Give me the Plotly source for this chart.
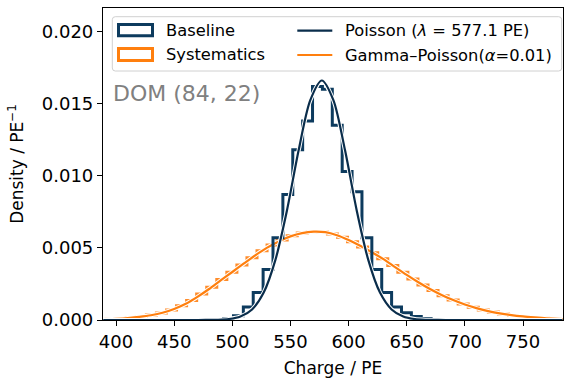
import plotly.graph_objects as go

# ---------------- data ----------------
baseline_edges = [492.5, 501, 509.5, 518, 526.5, 535, 543.5, 552, 560.5, 569, 577.5,
                  586, 594.5, 603, 611.5, 620, 628.5, 637, 645.5, 654, 662.5, 671]
baseline_density = [0.0001, 0.0003, 0.0009, 0.0019, 0.0035, 0.0057, 0.0087, 0.0118, 0.0138,
                    0.0162, 0.0160, 0.0135, 0.0103, 0.0089, 0.0057, 0.0035, 0.0019, 0.0009,
                    0.0005, 0.00025, 0.0001]

syst_edges = [391.5, 400.15, 408.8, 417.45, 426.1, 434.75, 443.4, 452.05, 460.7, 469.35,
              478.0, 486.65, 495.3, 503.95, 512.6, 521.25, 529.9, 538.55, 547.2, 555.85,
              564.5, 573.15, 581.8, 590.45, 599.1, 607.75, 616.4, 625.05, 633.7, 642.35,
              651.0, 659.65, 668.3, 676.95, 685.6, 694.25, 702.9, 711.55, 720.2, 728.85,
              737.5, 746.15, 754.8, 763.45, 772.1, 780.75]
syst_density = [0.00006, 0.00010, 0.00016, 0.00024, 0.00034, 0.00048, 0.00070, 0.00099,
                0.00135, 0.00180, 0.00228, 0.00281, 0.00331, 0.00382, 0.00432, 0.00480,
                0.00521, 0.00555, 0.00584, 0.00603, 0.00612, 0.00611, 0.00596, 0.00574,
                0.00543, 0.00506, 0.00466, 0.00425, 0.00378, 0.00331, 0.00285, 0.00243,
                0.00204, 0.00169, 0.00138, 0.00111, 0.00089, 0.00070, 0.00055, 0.00042,
                0.00032, 0.00024, 0.00018, 0.00013, 0.00009]

poisson_charge = [389, 440, 467, 477, 487, 497, 507, 517, 527, 537, 547, 557, 567, 577,
                  587, 597, 607, 617, 627, 637, 647, 657, 667, 677, 687, 714, 784]
poisson_density = [0, 0, 0, 0.000003, 0.000015, 0.000065, 0.00024, 0.00073, 0.0019, 0.00415,
                   0.0076, 0.01175, 0.01523, 0.01661, 0.01523, 0.01175, 0.0076, 0.00415,
                   0.0019, 0.00073, 0.00024, 0.000065, 0.000015, 0.000003, 0, 0, 0]

gp_charge = [390, 400, 410, 420, 430, 440, 450, 460, 470, 480, 490, 500, 510, 520, 530,
             540, 550, 560, 570, 580, 590, 600, 610, 620, 630, 640, 650, 660, 670, 680,
             690, 700, 710, 720, 730, 740, 750, 760, 770, 780, 785]
gp_density = [0.00003, 0.00008, 0.00014, 0.00022, 0.00033, 0.00050, 0.00076, 0.00112,
              0.00160, 0.00215, 0.00275, 0.00333, 0.00392, 0.00450, 0.00502, 0.00545,
              0.00580, 0.00603, 0.00613, 0.00609, 0.00588, 0.00555, 0.00515, 0.00470,
              0.00422, 0.00367, 0.00313, 0.00262, 0.00215, 0.00174, 0.00138, 0.00107,
              0.00082, 0.00062, 0.00046, 0.00034, 0.00025, 0.00018, 0.00012, 0.00008,
              0.00007]

x_ticks = [400, 450, 500, 550, 600, 650, 700, 750]
y_ticks = [0.000, 0.005, 0.010, 0.015, 0.020]
x_range = [388.8, 784.4]
y_range = [0.0, 0.02164]

labels = {
    "baseline": "Baseline",
    "syst": "Systematics",
    "poisson": "Poisson (<i>λ</i> = 577.1 PE)",
    "gp": "Gamma–Poisson(<i>α</i>=0.01)",
    "dom": "DOM (84, 22)",
}

# ---------------- style ----------------
NAVY_H = "#0d3b5e"
NAVY_L = "#0a2d4b"
ORANGE_H = "#ff8c2a"
ORANGE_L = "#ff7f0e"
FONT = "DejaVu Sans"
TICK_SIZE = 18
TITLE_SIZE = 17

W, H = 564, 379
ML, MR, MT, MB = 103, 1, 8, 59
PW, PH = W - ML - MR, H - MT - MB


def px_x(px):
    return (px - ML) / PW


def px_y(py):
    return (MT + PH - py) / PH


def step_xy(edges, vals):
    return [edges[0]] + list(edges), [0] + list(vals) + [0]


fig = go.Figure()

sx, sy = step_xy(syst_edges, syst_density)
fig.add_trace(go.Scatter(x=sx, y=sy, mode="lines", line=dict(color=ORANGE_H, width=3, shape="hv"),
                         name=labels["syst"], showlegend=False))
fig.add_trace(go.Scatter(x=gp_charge, y=gp_density, mode="lines",
                         line=dict(color="white", width=4.2, shape="spline", smoothing=0.8),
                         showlegend=False, hoverinfo="skip"))
fig.add_trace(go.Scatter(x=gp_charge, y=gp_density, mode="lines",
                         line=dict(color=ORANGE_L, width=2.2, shape="spline", smoothing=0.8),
                         name=labels["gp"], showlegend=False))

bx, by = step_xy(baseline_edges, baseline_density)
fig.add_trace(go.Scatter(x=bx, y=by, mode="lines", line=dict(color=NAVY_H, width=3, shape="hv"),
                         name=labels["baseline"], showlegend=False))
fig.add_trace(go.Scatter(x=poisson_charge, y=poisson_density, mode="lines",
                         line=dict(color="white", width=4.2, shape="spline", smoothing=0.8),
                         showlegend=False, hoverinfo="skip"))
fig.add_trace(go.Scatter(x=poisson_charge, y=poisson_density, mode="lines",
                         line=dict(color=NAVY_L, width=2.2, shape="spline", smoothing=0.8),
                         name=labels["poisson"], showlegend=False))

# ---------------- manual legend ----------------
shapes = []
x0, y0, x1, y1, r = 112.3, 16.7, 561.7, 71.0, 3
X0, X1 = px_x(x0), px_x(x1)
Y0, Y1 = px_y(y0), px_y(y1)
rx, ry = r / PW, r / PH
path = (f"M {X0+rx},{Y0} L {X1-rx},{Y0} Q {X1},{Y0} {X1},{Y0-ry} "
        f"L {X1},{Y1+ry} Q {X1},{Y1} {X1-rx},{Y1} L {X0+rx},{Y1} Q {X0},{Y1} {X0},{Y1+ry} "
        f"L {X0},{Y0-ry} Q {X0},{Y0} {X0+rx},{Y0} Z")
shapes.append(dict(type="path", path=path, xref="paper", yref="paper",
                   line=dict(color="#d0d0d0", width=1), fillcolor="rgba(255,255,255,0.8)"))
shapes.append(dict(type="rect", xref="paper", yref="paper", x0=px_x(118.5), x1=px_x(152.5),
                   y0=px_y(24.5), y1=px_y(35.8), line=dict(color=NAVY_H, width=3)))
shapes.append(dict(type="rect", xref="paper", yref="paper", x0=px_x(118.5), x1=px_x(152.5),
                   y0=px_y(48.5), y1=px_y(60.5), line=dict(color=ORANGE_L, width=3)))
shapes.append(dict(type="line", xref="paper", yref="paper", x0=px_x(297.3), x1=px_x(332.3),
                   y0=px_y(30.7), y1=px_y(30.7), line=dict(color=NAVY_L, width=2.2)))
shapes.append(dict(type="line", xref="paper", yref="paper", x0=px_x(297.3), x1=px_x(332.3),
                   y0=px_y(55.0), y1=px_y(55.0), line=dict(color=ORANGE_L, width=2.2)))

annotations = []


def add_text(text, px, py, size, color="black"):
    annotations.append(dict(text=text, x=px_x(px), y=px_y(py), xref="paper", yref="paper",
                            xanchor="left", yanchor="middle", showarrow=False, borderpad=0,
                            font=dict(family=FONT, size=size, color=color)))


add_text(labels["baseline"], 164.5, 30.7, 16.3)
add_text(labels["syst"], 164.5, 54.3, 16.3)
add_text(labels["poisson"], 344, 30.7, 16.3)
add_text(labels["gp"], 344, 55.0, 16.3)
add_text(labels["dom"], 112, 93.5, 22, "#808080")

fig.update_layout(
    width=W, height=H,
    margin=dict(l=ML, r=MR, t=MT, b=MB, autoexpand=False),
    paper_bgcolor="white", plot_bgcolor="white",
    font=dict(family=FONT, size=TICK_SIZE, color="black"),
    showlegend=False,
    shapes=shapes,
    annotations=annotations,
    xaxis=dict(range=x_range, tickmode="array", tickvals=x_ticks, ticks="outside",
               ticklen=5, tickwidth=1.2, tickcolor="black", showline=True, linecolor="black",
               linewidth=1.2, mirror=True, showgrid=False, zeroline=False,
               title=dict(text="Charge / PE", standoff=11, font=dict(size=TITLE_SIZE)),
               tickfont=dict(size=TICK_SIZE), automargin=False),
    yaxis=dict(range=y_range, tickmode="array", tickvals=y_ticks, tickformat=".3f",
               ticks="outside", ticklen=5, tickwidth=1.2, tickcolor="black", showline=True,
               linecolor="black", linewidth=1.2, mirror=True, showgrid=False, zeroline=False,
               title=dict(text="Density / PE<sup>−1</sup>", standoff=13, font=dict(size=TITLE_SIZE)),
               tickfont=dict(size=TICK_SIZE), automargin=False),
)

fig.write_html("out.html")
